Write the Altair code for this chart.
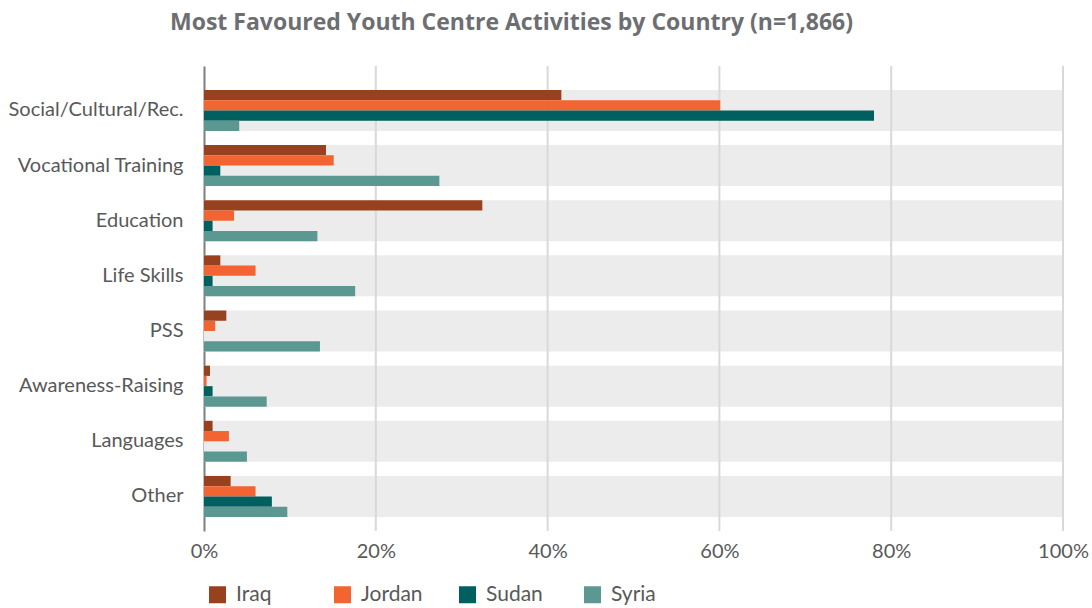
import altair as alt
import pandas as pd

categories = ["Social/Cultural/Rec.", "Vocational Training", "Education", "Life Skills",
              "PSS", "Awareness-Raising", "Languages", "Other"]
countries = ["Iraq", "Jordan", "Sudan", "Syria"]
colors = ["#97411f", "#f26532", "#005f5f", "#5b9891"]

iraq = [41.6, 14.2, 32.4, 1.9, 2.6, 0.7, 1.0, 3.1]
jordan = [60.1, 15.1, 3.5, 6.0, 1.3, 0.3, 2.9, 6.0]
sudan = [78.0, 1.9, 1.0, 1.0, 0.0, 1.0, 0.0, 7.9]
syria = [4.1, 27.4, 13.2, 17.6, 13.5, 7.3, 5.0, 9.7]

grid_ticks = [20, 40, 60, 80, 100]

series = {"Iraq": iraq, "Jordan": jordan, "Sudan": sudan, "Syria": syria}
rows = []
for c in countries:
    for cat, v in zip(categories, series[c]):
        rows.append({"Category": cat, "Country": c, "Value": v})
df = pd.DataFrame(rows)
bands = pd.DataFrame({"Category": categories, "start": [0] * len(categories), "end": [100] * len(categories)})
grid_df = pd.DataFrame({"tick": grid_ticks})

W, H = 859, 465
FONT = "Lato"
TXT = "#595959"

yscale = alt.Scale(domain=categories, paddingInner=0.2565, paddingOuter=0.3446, align=0.63)
xscale = alt.Scale(domain=[0, 100], nice=False)

band_layer = alt.Chart(bands).mark_bar(color="#ececec").encode(
    y=alt.Y("Category:N", scale=yscale, sort=categories, title=None,
            axis=alt.Axis(domain=True, domainColor="#7f7f7f", domainWidth=2, ticks=False,
                          labelFontSize=20, labelColor=TXT, labelFont=FONT, labelPadding=21,
                          labelLimit=300)),
    x=alt.X("start:Q", scale=xscale, title=None,
            axis=alt.Axis(values=[0, 20, 40, 60, 80, 100], format=".0f", labelExpr="datum.value + '%'",
                          domain=False, ticks=False, grid=False, labelFontSize=20, labelFlush=False,
                          labelColor=TXT, labelFont=FONT, labelPadding=10)),
    x2="end:Q",
)

grid_layer = alt.Chart(grid_df).mark_rule(color="#d9d9d9", strokeWidth=2).encode(
    x=alt.X("tick:Q", scale=xscale),
    y=alt.value(0),
    y2=alt.value(H),
)

bar_layer = alt.Chart(df).mark_bar().encode(
    y=alt.Y("Category:N", scale=yscale, sort=categories),
    yOffset=alt.YOffset("Country:N", sort=countries, scale=alt.Scale(paddingInner=0, paddingOuter=0)),
    x=alt.X("Value:Q", scale=xscale),
    color=alt.Color("Country:N", sort=countries,
                    scale=alt.Scale(domain=countries, range=colors),
                    legend=alt.Legend(title=None, orient="none", legendX=3, legendY=518,
                                      direction="horizontal", columns=4, gridAlign="all",
                                      columnPadding=34, symbolType="square", symbolSize=289,
                                      symbolStrokeWidth=0, labelFontSize=21, labelColor=TXT,
                                      labelFont=FONT, labelOffset=8, padding=0)),
)

chart = alt.layer(band_layer, grid_layer, bar_layer).properties(
    width=W, height=H,
    title=alt.TitleParams("Most Favoured Youth Centre Activities by Country (n=1,866)",
                          font="Open Sans", fontSize=23, fontWeight="bold", color="#6d6e71",
                          anchor="middle", frame="group", dx=-122, offset=30),
    padding={"left": 204, "top": 66, "right": 29, "bottom": 77},
    autosize=alt.AutoSizeParams(type="none"),
).configure_view(stroke=None)

chart.save("out.html", embed_options={"renderer": "svg", "actions": False})
